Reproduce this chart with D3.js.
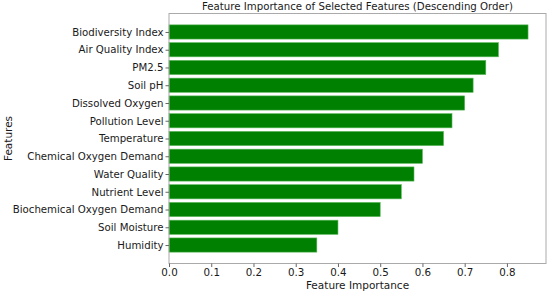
<!DOCTYPE html>
<html>
<head>
<meta charset="utf-8">
<script src="https://cdn.jsdelivr.net/npm/d3@7"></script>
<style>
  body { margin: 0; background: #fff; }
  text { font-family: "DejaVu Sans", sans-serif; fill: #1a1a1a; }
  .axis path, .axis line { stroke: #666; }
</style>
</head>
<body>
<svg width="550" height="291"></svg>
<script>
const features = ['Biodiversity Index','Air Quality Index','PM2.5','Soil pH','Dissolved Oxygen',
  'Pollution Level','Temperature','Chemical Oxygen Demand','Water Quality','Nutrient Level',
  'Biochemical Oxygen Demand','Soil Moisture','Humidity']
const importance = [0.85,0.78,0.75,0.72,0.70,0.67,0.65,0.60,0.58,0.55,0.50,0.40,0.35]
const xTicks = [0,0.1,0.2,0.3,0.4,0.5,0.6,0.7,0.8]

const svg = d3.select('svg'),
  margin = {top:13.5,right:4,bottom:27.5,left:169},
  width = svg.attr('width') - margin.left - margin.right,
  height = svg.attr('height') - margin.top - margin.bottom

const container = svg.append('g')
  .attr('transform',`translate(${margin.left},${margin.top})`)

const x = d3.scaleLinear().domain([0,d3.max(importance)*1.05]).range([0,width])
// matplotlib style: bars at integer positions, height 0.8, 5% padding
const n = features.length
const y = d3.scaleLinear().domain([-0.4-0.64, n-1+0.4+0.64]).range([0,height])
const barH = y(0.8)-y(0)

container.selectAll('.bar').data(importance).enter().append('rect')
  .attr('class','bar')
  .attr('x',x(0))
  .attr('y',(d,i) => y(i)-barH/2)
  .attr('width',d => x(d)-x(0))
  .attr('height',barH)
  .attr('fill','#008000')
  .attr('stroke','#5cb85c')
  .attr('stroke-width',0.6)

// frame
container.append('rect')
  .attr('width',width).attr('height',height)
  .attr('fill','none').attr('stroke','#aaa').attr('stroke-width',1)

const xAxis = container.append('g')
  .attr('class','axis axis--x')
  .attr('transform',`translate(0,${height})`)
  .call(d3.axisBottom(x).tickValues(xTicks).tickFormat(d3.format('.1f')).tickSize(3.5).tickPadding(1.5))
xAxis.select('.domain').remove()
xAxis.selectAll('text').attr('font-size',10.3).style('font-family','DejaVu Sans')

const yAxis = container.append('g')
  .attr('class','axis axis--y')
  .call(d3.axisLeft(y).tickValues(d3.range(n)).tickFormat(i => features[i]).tickSize(3.5).tickPadding(2))
yAxis.select('.domain').remove()
yAxis.selectAll('text').attr('font-size',10.2).style('font-family','DejaVu Sans')

container.append('text')
  .attr('x',width/2).attr('y',-4)
  .attr('text-anchor','middle')
  .attr('font-size',10.2)
  .text('Feature Importance of Selected Features (Descending Order)')

svg.append('text')
  .attr('x',margin.left+width/2).attr('y',288.5)
  .attr('text-anchor','middle')
  .attr('font-size',10.5)
  .text('Feature Importance')

svg.append('text')
  .attr('transform',`translate(12,${margin.top+height/2}) rotate(-90)`)
  .attr('text-anchor','middle')
  .attr('font-size',10.5)
  .text('Features')
</script>
</body>
</html>
